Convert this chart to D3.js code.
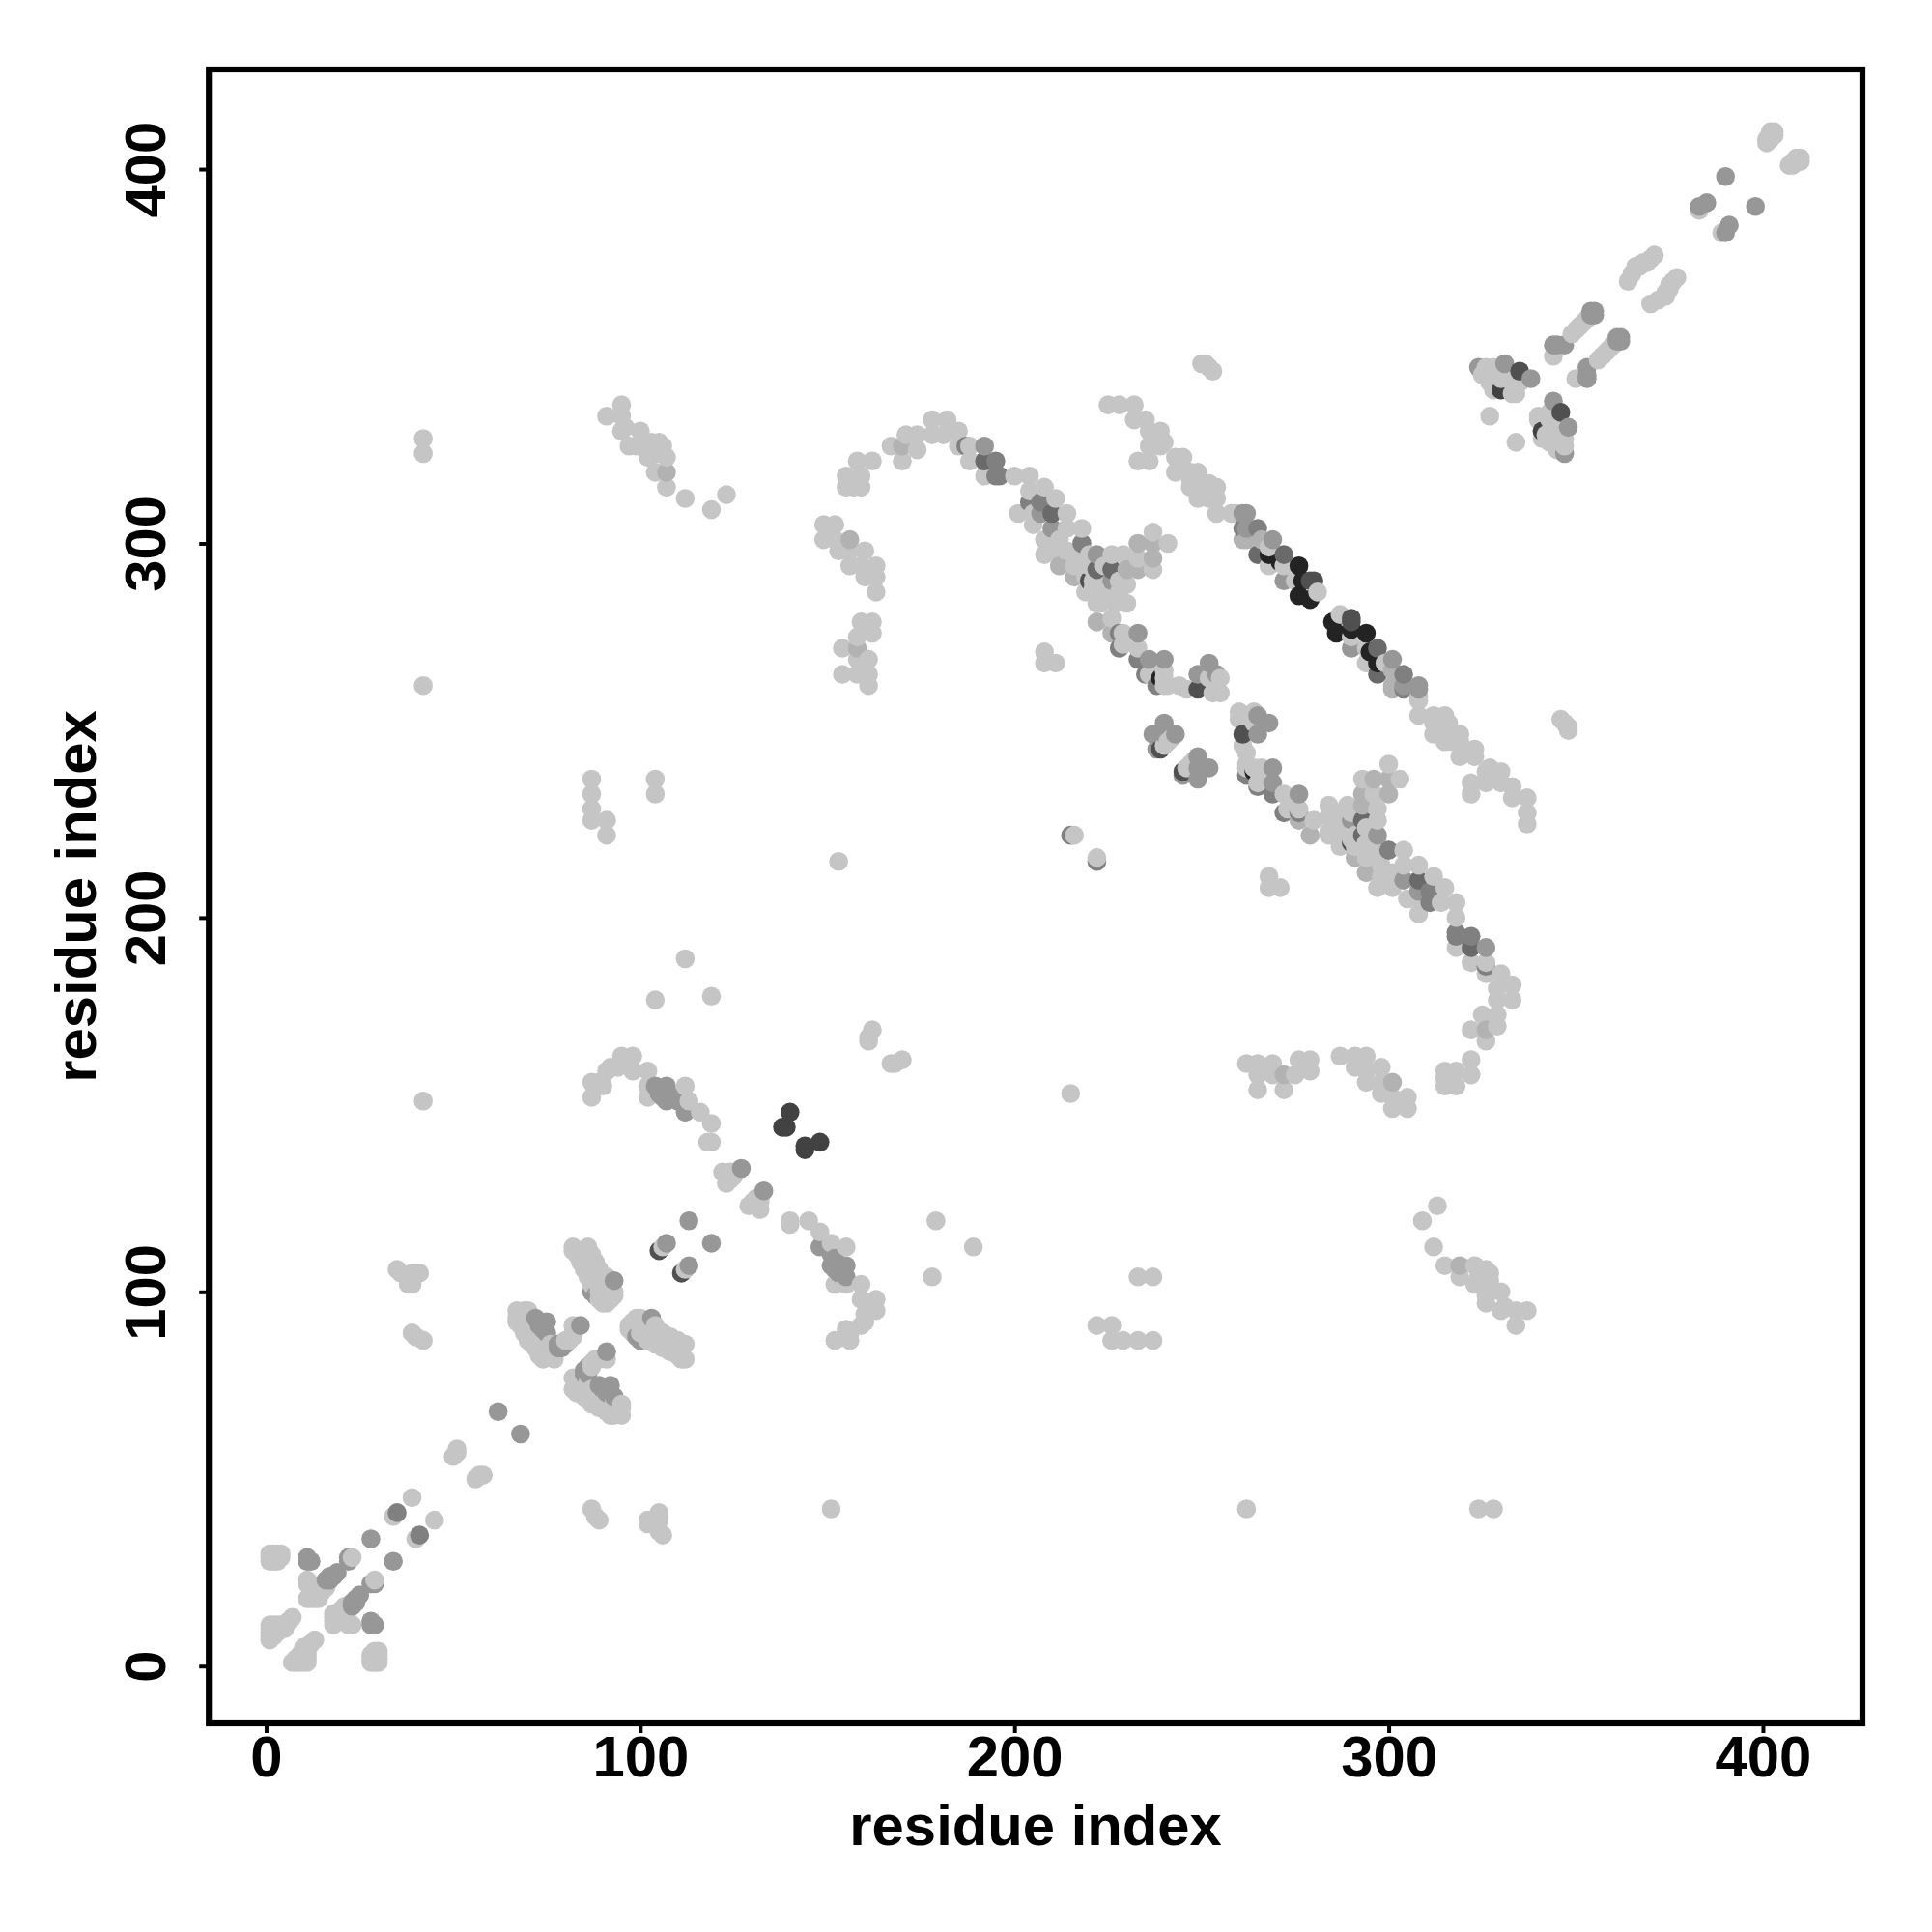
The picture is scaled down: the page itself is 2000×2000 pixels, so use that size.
<!DOCTYPE html>
<html>
<head>
<meta charset="utf-8">
<script src="https://cdn.jsdelivr.net/npm/d3@7"></script>
<style>html,body{margin:0;padding:0;background:#fff}svg{display:block}</style>
</head>
<body>
<svg id="chart" width="2000" height="2000"></svg>
<script>
// Contacts as [residue i, residue j] with i < j; the map is symmetric, so each one is also drawn as [j, i].
const contactsLight = [
[1,28],[1,29],[1,30],[2,28],[2,30],[3,28],[3,29],[3,30],[4,29],[4,30],
[11,22],[11,23],[12,21],[12,22],[13,21],[13,20],[12,19],[11,18],[12,18],[13,18],[14,19],[15,20],[14,18],[16,21],[23,29],
[1,7],[1,8],[1,9],[1,10],[1,11],[2,8],[2,9],[2,10],[2,11],[3,9],[3,10],[3,11],[4,10],[4,11],[5,10],[5,11],[6,12],[7,13],
[34,40],[39,45],[50,56],[51,57],[51,58],
[82,111],[82,112],[86,112],[83,110],[85,110],[87,110],[84,108],[86,108],[88,108],[85,106],[87,106],[89,106],[86,104],[88,104],[90,104],[91,104],
[87,102],[89,102],[91,102],[92,102],[89,100],[91,100],[93,100],[89,98],[91,98],[93,99],[90,97],[91,97],[92,98],
[67,95],[69,95],[70,95],[67,93],[69,93],[71,93],[67,92],[68,91],[70,91],[72,91],[69,89],[71,89],[73,89],[70,87],[72,87],[74,87],[71,86],[72,85],
[73,85],[75,85],[77,85],[76,86],[73,83],[74,83],[76,83],[74,82],[77,82],[82,91],[82,89],[82,88],[81,87],[80,87],
[106,112],[87,152],[87,156],[88,155],[89,156],[90,155],[91,159],[92,160],[94,160],[95,163],[98,159],[98,163],[102,159],[102,152],[102,155],
[112,155],[113,151],[116,148],[119,145],[118,140],[119,140],
[122,132],[123,129],[123,131],[124,130],[124,132],[125,131],[125,132],[161,167],[161,168],[162,170],
[42,151],[42,262],[42,324],[42,328],[87,237],[87,233],[87,229],[87,226],[91,226],[91,222],[104,233],[104,237],[112,189],[104,178],[119,179],[153,215],
[35,106],[36,105],[38,104],[39,105],[40,105],[41,105],[38,102],[39,102],[39,89],[40,88],[42,87],
[91,334],[95,337],[95,334],[96,331],[95,330],[100,330],[97,326],[99,326],[103,327],[105,327],[106,326],[102,323],[104,324],[107,323],[104,319],[107,315],[112,312],[119,309],[123,313],
[149,305],[152,305],[149,301],[152,301],[153,298],[156,298],[160,298],[156,294],[159,294],[163,294],[160,291],[163,291],[163,287],
[159,279],[162,279],[158,275],[162,276],[154,272],[158,269],[161,269],[154,265],[158,265],[161,265],[161,262],
[158,322],[162,322],[155,318],[159,318],[155,315],[157,315],[159,315],[167,326],[171,329],[174,329],[174,325],[170,322],
[178,333],[182,333],[178,329],[181,329],[185,330],[185,326],[188,326],[188,322],[192,318],[200,318],[204,318],[204,314],[208,315],[211,312],
[201,308],[205,308],[205,305],[208,301],[212,301],[208,297],[211,298],[214,308],[218,304],[214,304],[214,298],[216,297],[216,294],[218,294],[219,291],[219,287],
[220,294],[220,297],[221,288],[221,290],[222,284],[222,291],[223,284],[224,286],[224,294],[226,280],[227,284],[226,287],[226,297],[228,287],[228,290],[229,297],[233,296],[237,303],[241,300],[237,293],[230,289],[230,284],[222,287],
[229,273],[229,276],[233,272],[236,265],[240,264],[240,266],[240,262],[241,262],[244,262],[246,261],[252,264],[255,264],[255,260],[253,260],[240,246],[241,247],[242,248],
[208,271],[208,268],[211,268],[216,222],
[258,308],[259,308],[268,299],[268,294],[272,294],[275,290],[281,287],
[225,337],[228,337],[232,337],[232,333],[235,333],[236,330],[239,330],[236,326],[239,326],[240,327],[233,322],[236,322],[243,323],[245,323],[243,319],[247,319],[249,319],[247,317],[247,315],[249,314],[249,312],[250,316],[252,316],[252,312],[254,315],[254,312],[254,308],
[250,348],[251,348],[252,347],[253,346],
[325,345],[326,347],[327,345],[328,347],[327,343],[328,341],[329,342],[328,344],[330,344],[333,340],[334,344],[333,343],[334,340],[335,343],[327,334],
[344,350],[349,356],[350,357],[351,358],[352,359],[353,360],
[364,370],[365,372],[366,374],[367,374],[368,375],[369,375],[370,376],[371,377],[383,389],
[401,407],[401,408],[402,408],[402,409],[402,410],[403,409],[403,410]
];
const contactsPale = [
[156,301],[158,272],[170,326],[107,319],[212,294],[216,291],[222,279],[226,276],[233,300],[237,300],[237,296],[233,293],[230,293],[262,301],[261,301],[266,301]
];
const contactsMedium = [
[11,28],[11,29],[12,28],[16,23],[17,23],[17,24],[18,24],[19,25],[22,28],[22,29],[28,34],[62,68],
[87,100],[88,99],[93,103],[72,93],[73,92],[75,92],[73,91],[74,90],[75,89],[78,86],[79,86],[80,86],[78,85],[79,85],[84,91],
[107,113],[113,119],[104,155],[107,155],[107,151],[105,153],[106,152],[109,152],[110,151],[112,148],[112,151],[127,133],
[192,326],[207,308],[210,304],[222,297],[226,290],
[236,269],[240,269],[233,276],[249,265],[252,268],[254,265],[240,252],[237,249],[243,249],[240,249],[238,245],
[261,308],[262,308],[262,304],[269,301],[272,290],
[324,347],[331,348],[338,344],[344,353],[345,353],[347,353],[354,361],[354,362],[355,361],[355,362],[383,390],[385,391],[390,398]
];
const contactsSlate = [
[35,41],[187,326],[195,322],[195,318],[196,318],[204,311],[207,311],[218,300],[228,272],[228,276],[233,269],[235,265],[238,262],[215,222],[261,304],[265,304]
];
const contactsDark = [
[192,322],[210,308],[222,293],[226,293],[265,297],[272,297]
];
const contactsDeep = [
[105,111],[220,290],[239,245],[249,261],[279,290],[280,290],[335,346]
];
const contactsCharcoal = [
[138,144],[139,144],[140,148],[330,341]
];
const contactsBlack = [
[239,264],[268,297],[271,295],[276,294],[276,286],[277,290],[279,285]
];

const shadeGroups = [
  [contactsLight, "#c5c5c5"],
  [contactsPale, "#b2b2b2"],
  [contactsMedium, "#979797"],
  [contactsSlate, "#808080"],
  [contactsDark, "#6a6a6a"],
  [contactsDeep, "#505050"],
  [contactsCharcoal, "#424242"],
  [contactsBlack, "#232323"]
];
const tickValues = [0, 100, 200, 300, 400];
const xTitle = "residue index";
const yTitle = "residue index";

const points = shadeGroups.flatMap(([list, color]) =>
  list.flatMap(([i, j]) => [{x: i, y: j, color}, {x: j, y: i, color}])
).sort((a, b) => d3.ascending(a.x, b.x) || d3.ascending(a.y, b.y));

const plotLeft = 216.2, plotRight = 1928, plotTop = 72, plotBottom = 1784;
const xScale = d3.scaleLinear().domain([-15.3, 426.6]).range([plotLeft, plotRight]);
const yScale = d3.scaleLinear().domain([-15.3, 426.6]).range([plotBottom, plotTop]);
const svg = d3.select("#chart");
const fontFamily = "'Liberation Sans', Arial, sans-serif";

svg.append("g").selectAll("circle").data(points).join("circle")
  .attr("cx", d => xScale(d.x)).attr("cy", d => yScale(d.y)).attr("r", 9.8).attr("fill", d => d.color);

const xAxis = svg.append("g").attr("transform", `translate(0,${plotBottom})`)
  .call(d3.axisBottom(xScale).tickValues(tickValues).tickSize(10).tickFormat(d3.format("d")));
const yAxis = svg.append("g").attr("transform", `translate(${plotLeft},0)`)
  .call(d3.axisLeft(yScale).tickValues(tickValues).tickSize(10).tickFormat(d3.format("d")));
[xAxis, yAxis].forEach(a => {
  a.select(".domain").remove();
  a.selectAll("line").attr("stroke", "#000").attr("stroke-width", 4);
  a.selectAll("text").attr("fill", "#000").attr("font-family", fontFamily)
    .attr("font-weight", "bold").attr("font-size", 59.8);
});
xAxis.selectAll("text").attr("y", 55).attr("dy", 0).attr("text-anchor", "middle");
yAxis.selectAll("text").attr("transform", "rotate(-90)").attr("x", 0).attr("y", -45).attr("dy", 0).attr("text-anchor", "middle");

svg.append("rect").attr("x", plotLeft).attr("y", plotTop).attr("width", plotRight - plotLeft).attr("height", plotBottom - plotTop)
  .attr("fill", "none").attr("stroke", "#000").attr("stroke-width", 6.2);

svg.append("text").attr("x", (plotLeft + plotRight) / 2).attr("y", 1910).attr("text-anchor", "middle")
  .attr("font-family", fontFamily).attr("font-weight", "bold").attr("font-size", 59.8).text(xTitle);
svg.append("text").attr("transform", `translate(99,${(plotTop + plotBottom) / 2}) rotate(-90)`).attr("text-anchor", "middle")
  .attr("font-family", fontFamily).attr("font-weight", "bold").attr("font-size", 59.8).text(yTitle);
</script>
</body>
</html>
